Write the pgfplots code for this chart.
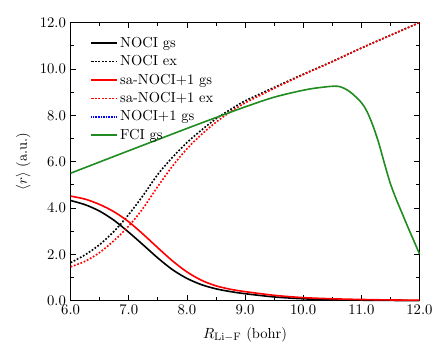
\documentclass[border=0pt]{standalone}
\usepackage{pgfplots}
\pgfplotsset{compat=1.18}
\definecolor{fcigreen}{rgb}{0.13,0.55,0.13}
\begin{document}
\begin{tikzpicture}[font=\fontsize{10.8}{13}\selectfont]
\begin{axis}[
  scale only axis,
  width=259.8pt, height=207.1pt,
  xmin=6, xmax=12, ymin=0, ymax=12,
  xtick={6,7,...,12}, ytick={0,2,...,12},
  minor tick num=1,
  tick pos=both,
  tick align=inside,
  major tick length=4pt, minor tick length=2.5pt,
  tick style={line width=0.6pt, black},
  axis line style={line width=0.8pt},
  xticklabel style={/pgf/number format/.cd, fixed, fixed zerofill, precision=1},
  yticklabel style={/pgf/number format/.cd, fixed, fixed zerofill, precision=1},
  xlabel={$R_{\mathrm{Li-F}}$ (bohr)},
  xlabel style={yshift=-2.5pt},
  ylabel={$\langle r\rangle$ (a.u.)},
  clip=false,
  legend cell align=left,
  legend style={draw=none, fill=none, at={(0.045,0.968)}, anchor=north west, row sep=0.6pt},
  legend image code/.code={\draw[mark repeat=2,mark phase=2] plot coordinates {(0cm,0cm) (0.33cm,0cm) (0.66cm,0cm)};},
]
\path (rel axis cs:-0.2025,-0.1813) rectangle (rel axis cs:1.0436,1.0812);
% NOCI gs
\addplot[black, line width=1.2pt, smooth] coordinates {
(6.0,4.32) (6.25,4.14) (6.5,3.86) (6.75,3.46) (7.0,2.95) (7.25,2.40) (7.5,1.84)
(7.75,1.34) (8.0,0.96) (8.25,0.69) (8.5,0.51) (8.75,0.39) (9.0,0.30) (9.5,0.16)
(10.0,0.08) (10.5,0.04) (11.0,0.02) (11.5,0.01) (12.0,0.0)};
\addlegendentry{NOCI gs}
% NOCI ex
\addplot[black, line width=1.2pt, smooth, dash pattern=on 1.3pt off 1.3pt] coordinates {
(6.0,1.64) (6.25,1.98) (6.5,2.42) (6.75,3.00) (7.0,3.72) (7.25,4.55) (7.5,5.45)
(7.75,6.18) (8.0,6.82) (8.25,7.36) (8.5,7.85) (8.75,8.25) (9.0,8.62) (9.5,9.20)
(10.0,9.77) (10.5,10.32) (11.0,10.90) (11.5,11.45) (12.0,12.0)};
\addlegendentry{NOCI ex}
% sa-NOCI+1 gs
\addplot[red, line width=1.2pt, smooth] coordinates {
(6.0,4.51) (6.25,4.38) (6.5,4.15) (6.75,3.83) (7.0,3.40) (7.25,2.86) (7.5,2.28)
(7.75,1.72) (8.0,1.24) (8.25,0.88) (8.5,0.64) (8.75,0.49) (9.0,0.39) (9.5,0.23)
(10.0,0.13) (10.5,0.08) (11.0,0.05) (11.5,0.03) (12.0,0.02)};
\addlegendentry{sa-NOCI+1 gs}
% sa-NOCI+1 ex
\addplot[red, line width=1.2pt, smooth, dash pattern=on 1.3pt off 1.3pt] coordinates {
(6.0,1.46) (6.25,1.70) (6.5,2.08) (6.75,2.60) (7.0,3.22) (7.25,4.00) (7.5,4.93)
(7.75,5.80) (8.0,6.55) (8.25,7.17) (8.5,7.70) (8.75,8.15) (9.0,8.53) (9.5,9.16)
(10.0,9.75) (10.5,10.31) (11.0,10.90) (11.5,11.45) (12.0,12.0)};
\addlegendentry{sa-NOCI+1 ex}
\addlegendimage{blue, line width=1.2pt, dash pattern=on 0.6pt off 0.6pt}
\addlegendentry{NOCI+1 gs}
% FCI gs
\addplot[fcigreen, line width=1.2pt, smooth, tension=0.5] coordinates {
(6.0,5.5) (7.0,6.47) (8.0,7.43) (8.5,7.90) (9.0,8.36) (9.5,8.78) (10.0,9.08)
(10.3,9.20) (10.6,9.25) (10.8,9.02) (11.0,8.55) (11.1,8.15) (11.2,7.55)
(11.3,6.80) (11.4,5.90) (11.5,5.05) (11.6,4.38) (11.7,3.78) (11.8,3.18)
(11.9,2.60) (12.0,2.02)};
\addlegendentry{FCI gs}
\end{axis}
\end{tikzpicture}
\end{document}
